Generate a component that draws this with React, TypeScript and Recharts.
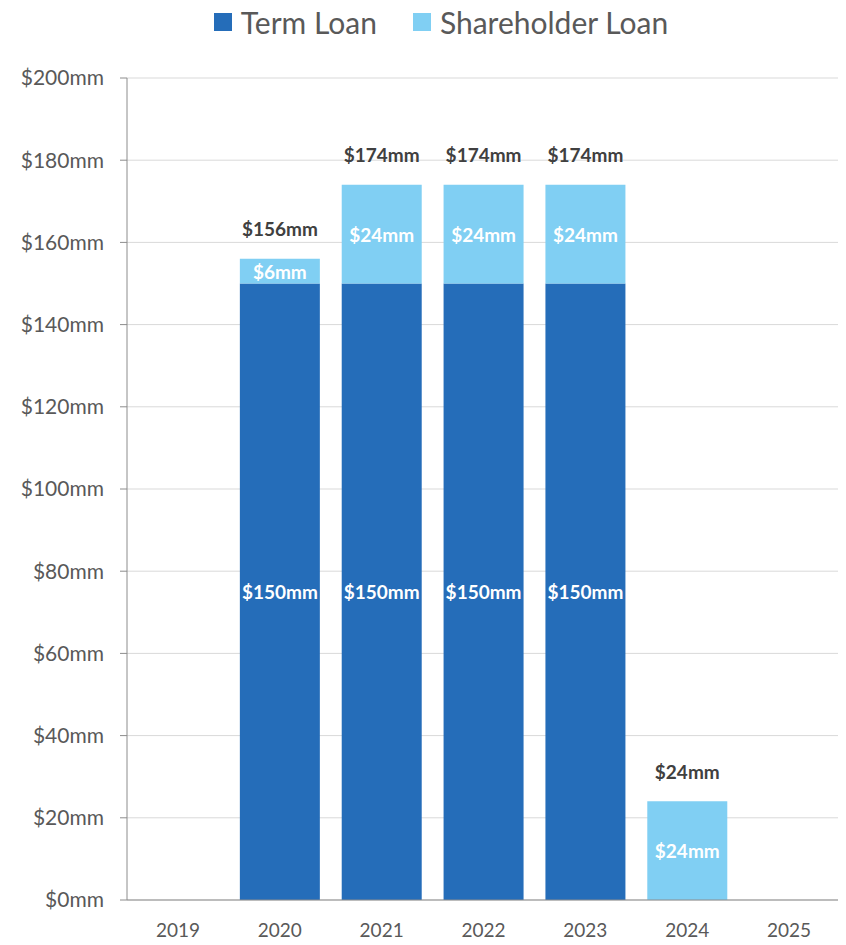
import { BarChart, Bar, XAxis, YAxis, CartesianGrid, LabelList } from 'recharts';

const years = ['2019', '2020', '2021', '2022', '2023', '2024', '2025'];
const termLoan = [0, 150, 150, 150, 150, 0, 0];
const shareholderLoan = [0, 6, 24, 24, 24, 24, 0];
const yTicks = [0, 20, 40, 60, 80, 100, 120, 140, 160, 180, 200];

const TERM_COLOR = '#256db9';
const SH_COLOR = '#80cff3';
const FONT = 'Lato, "Open Sans", sans-serif';

const data = years.map((year, i) => ({
  year,
  term: termLoan[i],
  shareholder: shareholderLoan[i],
  total: termLoan[i] + shareholderLoan[i],
}));

const fmt = (v: number) => `$${v}mm`;

function InsideLabel(props: any) {
  const { x, y, width, height, value } = props;
  if (!value) return null;
  return (
    <text
      x={x + width / 2}
      y={y + height / 2}
      textAnchor="middle"
      dominantBaseline="central"
      fill="#ffffff"
      fontSize={19}
      fontWeight={700}
      fontFamily={FONT}
    >
      {fmt(value)}
    </text>
  );
}

function TotalLabel(props: any) {
  const { x, y, width, value } = props;
  if (!value) return null;
  return (
    <text
      x={x + width / 2}
      y={y - 30}
      textAnchor="middle"
      dominantBaseline="central"
      fill="#404040"
      fontSize={19}
      fontWeight={700}
      fontFamily={FONT}
    >
      {fmt(value)}
    </text>
  );
}

function ChartLegend() {
  const items = [
    { label: 'Term Loan', color: TERM_COLOR },
    { label: 'Shareholder Loan', color: SH_COLOR },
  ];
  return (
    <div
      style={{
        height: 40,
        display: 'flex',
        justifyContent: 'center',
        alignItems: 'center',
        gap: 36,
        fontFamily: FONT,
        fontSize: 30,
        color: '#595959',
        paddingLeft: 28,
        marginTop: -6,
      }}
    >
      {items.map((it) => (
        <div key={it.label} style={{ display: 'flex', alignItems: 'center' }}>
          <span style={{ width: 18, height: 18, background: it.color, marginRight: 9, display: 'inline-block' }} />
          <span>{it.label}</span>
        </div>
      ))}
    </div>
  );
}

export default function App() {
  return (
    <div style={{ width: 838 }}>
      <ChartLegend />
      <BarChart
        width={838}
        height={903}
        data={data}
        margin={{ top: 36, right: 6, bottom: 0, left: 0 }}
        barCategoryGap="10.8%"
      >
        <CartesianGrid vertical={false} stroke="#d9d9d9" />
        <XAxis
          dataKey="year"
          height={45}
          tickLine={false}
          tickSize={0}
          tickMargin={24}
          axisLine={{ stroke: '#8c8c8c' }}
          tick={{ fill: '#595959', fontSize: 19, fontFamily: FONT }}
        />
        <YAxis
          width={119}
          domain={[0, 200]}
          ticks={yTicks}
          tickFormatter={fmt}
          tickSize={7}
          tickMargin={16}
          axisLine={{ stroke: '#8c8c8c' }}
          tickLine={{ stroke: '#8c8c8c' }}
          tick={{ fill: '#595959', fontSize: 21, fontFamily: FONT }}
        />
        <Bar dataKey="term" stackId="a" fill={TERM_COLOR} isAnimationActive={false}>
          <LabelList dataKey="term" content={<InsideLabel />} />
        </Bar>
        <Bar dataKey="shareholder" stackId="a" fill={SH_COLOR} isAnimationActive={false}>
          <LabelList dataKey="shareholder" content={<InsideLabel />} />
          <LabelList dataKey="total" content={<TotalLabel />} />
        </Bar>
      </BarChart>
    </div>
  );
}
